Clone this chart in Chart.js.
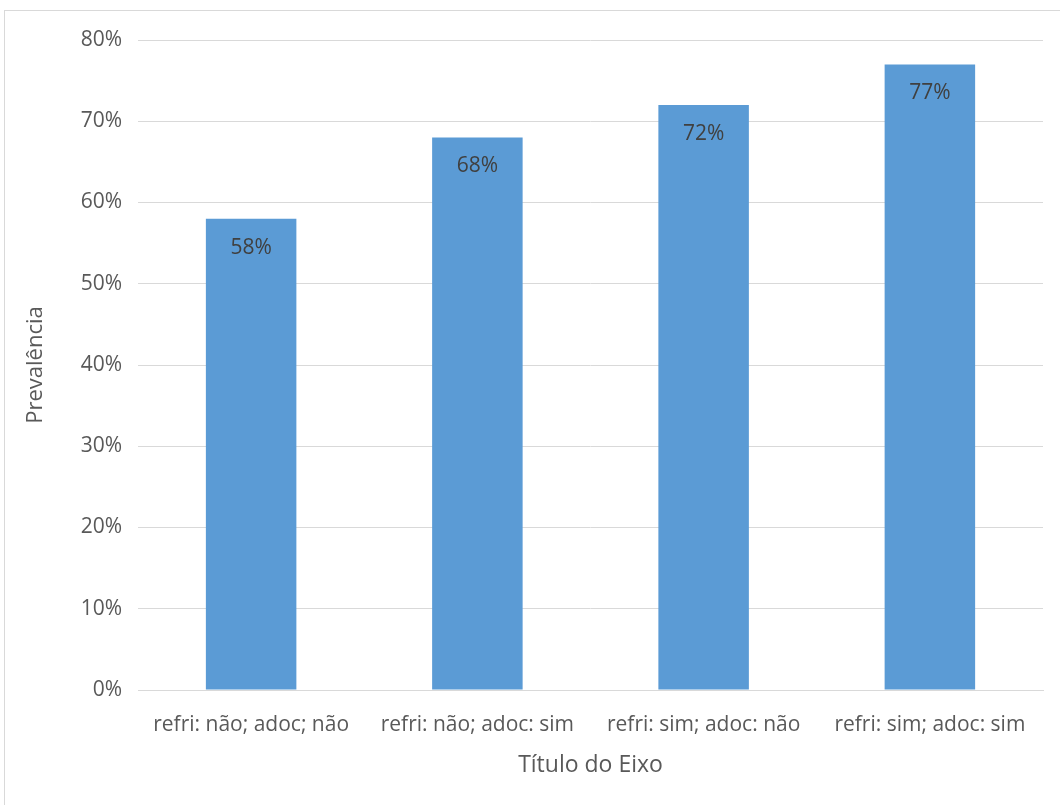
<!DOCTYPE html>
<html>
<head>
<meta charset="utf-8">
<script src="https://cdn.jsdelivr.net/npm/chart.js@4/dist/chart.umd.min.js"></script>
<style>
  html, body { margin: 0; padding: 0; background: #fff; }
  #wrap { position: relative; width: 1060px; height: 805px; overflow: hidden; }
  #frame { position: absolute; left: 4px; top: 10px; width: 1070px; height: 820px; border: 1px solid #d9d9d9; box-sizing: border-box; }
  #prevChart { position: absolute; left: 0; top: 0; }
</style>
</head>
<body>
<div id="wrap">
  <div id="frame"></div>
  <canvas id="prevChart" width="1060" height="805"></canvas>
</div>
<script>
// categorias e valores (%)
var categories = ["refri: não; adoc; não", "refri: não; adoc: sim", "refri: sim; adoc: não", "refri: sim; adoc: sim"];
var prevalence = [58, 68, 72, 77];
var yTicks = [0, 10, 20, 30, 40, 50, 60, 70, 80];

var fontFam = "'Open Sans', sans-serif";

// rótulos de dados dentro das barras
var barLabels = {
  id: "barLabels",
  afterDatasetsDraw: function (chart) {
    var ctx = chart.ctx;
    var meta = chart.getDatasetMeta(0);
    ctx.save();
    ctx.font = "21px " + fontFam;
    ctx.fillStyle = "#404040";
    ctx.textAlign = "center";
    ctx.textBaseline = "middle";
    meta.data.forEach(function (bar, i) {
      ctx.fillText(prevalence[i] + "%", bar.x, bar.y + 29);
    });
    ctx.restore();
  }
};

const ctx = document.getElementById("prevChart");

new Chart(ctx, {
  type: "bar",
  data: {
    labels: categories,
    datasets: [
      {
        label: "Prevalência",
        data: prevalence,
        backgroundColor: "#5b9bd5",
        borderWidth: 0,
        categoryPercentage: 0.4,
        barPercentage: 1,
      },
    ],
  },
  options: {
    responsive: false,
    animation: false,
    layout: { padding: { left: 19, top: 40, right: 17, bottom: 24 } },
    plugins: { legend: { display: false }, tooltip: { enabled: false } },
    scales: {
      x: {
        grid: { display: false },
        border: { color: "#d9d9d9", width: 1 },
        ticks: { color: "#595959", font: { family: fontFam, size: 21 }, padding: 14, maxRotation: 0 },
        title: { display: true, text: "Título do Eixo", color: "#595959", font: { family: fontFam, size: 23 }, padding: { top: 4, bottom: 2 } },
        afterFit: function (scale) { scale.height = 91; },
      },
      y: {
        min: 0,
        max: 80,
        afterBuildTicks: function (scale) {
          scale.ticks = yTicks.map(function (v) { return { value: v }; });
        },
        grid: { color: "#d9d9d9", lineWidth: 1, drawTicks: false },
        border: { display: false },
        ticks: {
          color: "#595959",
          font: { family: fontFam, size: 21 },
          padding: 16,
          callback: function (v) { return v + "%"; },
        },
        title: { display: true, text: "Prevalência", color: "#595959", font: { family: fontFam, size: 22 }, padding: { top: 4, bottom: 4 } },
        afterFit: function (scale) { scale.width = 119; },
      },
    },
  },
  plugins: [barLabels],
});
</script>
</body>
</html>
